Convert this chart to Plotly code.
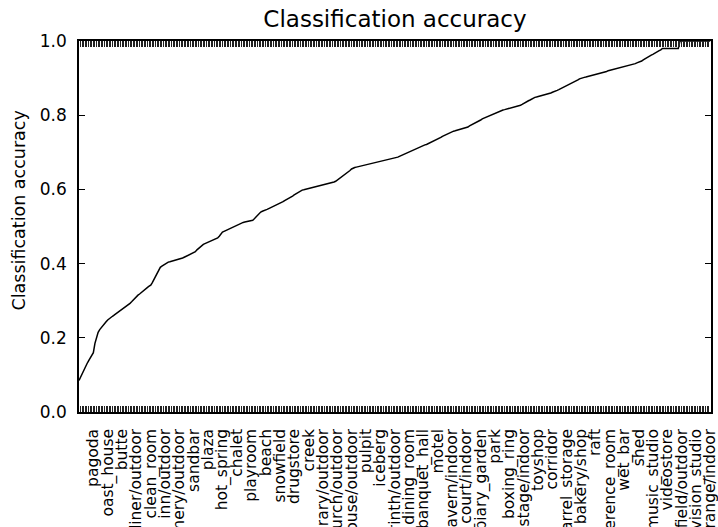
import numpy as np
import plotly.graph_objects as go

# Per-category classification accuracy, sorted ascending
accuracy = [
    0.085, 0.095, 0.105, 0.113, 0.121, 0.130, 0.138, 0.146, 0.153, 0.160,
    0.185, 0.200, 0.215, 0.222, 0.228, 0.233, 0.238, 0.243, 0.248, 0.252,
    0.255, 0.258, 0.261, 0.264, 0.267, 0.270, 0.273, 0.276, 0.279, 0.282,
    0.285, 0.288, 0.293, 0.297, 0.302, 0.306, 0.311, 0.315, 0.318, 0.322,
    0.325, 0.329, 0.332, 0.336, 0.339, 0.342, 0.349, 0.357, 0.364, 0.373,
    0.382, 0.390, 0.393, 0.396, 0.399, 0.402, 0.404, 0.405, 0.406, 0.407,
    0.409, 0.410, 0.411, 0.412, 0.413, 0.415, 0.417, 0.419, 0.421, 0.422,
    0.424, 0.426, 0.428, 0.432, 0.437, 0.441, 0.446, 0.450, 0.452, 0.454,
    0.456, 0.458, 0.460, 0.462, 0.464, 0.466, 0.467, 0.469, 0.474, 0.480,
    0.485, 0.487, 0.489, 0.491, 0.494, 0.496, 0.498, 0.500, 0.502, 0.505,
    0.507, 0.509, 0.510, 0.511, 0.512, 0.513, 0.514, 0.515, 0.516, 0.517,
    0.521, 0.526, 0.530, 0.535, 0.539, 0.541, 0.542, 0.544, 0.546, 0.548,
    0.550, 0.551, 0.553, 0.555, 0.558, 0.560, 0.563, 0.565, 0.567, 0.570,
    0.572, 0.575, 0.577, 0.580, 0.582, 0.585, 0.588, 0.590, 0.593, 0.595,
    0.598, 0.599, 0.600, 0.601, 0.603, 0.604, 0.605, 0.606, 0.607, 0.608,
    0.609, 0.610, 0.611, 0.611, 0.612, 0.613, 0.614, 0.615, 0.616, 0.617,
    0.620, 0.622, 0.625, 0.628, 0.631, 0.634, 0.638, 0.641, 0.645, 0.648,
    0.651, 0.655, 0.658, 0.659, 0.660, 0.661, 0.662, 0.663, 0.664, 0.665,
    0.665, 0.666, 0.667, 0.668, 0.669, 0.670, 0.671, 0.672, 0.673, 0.674,
    0.675, 0.676, 0.677, 0.679, 0.680, 0.681, 0.682, 0.683, 0.685, 0.686,
    0.687, 0.689, 0.691, 0.693, 0.695, 0.697, 0.699, 0.700, 0.703, 0.705,
    0.707, 0.710, 0.712, 0.714, 0.715, 0.717, 0.718, 0.720, 0.721, 0.723,
    0.725, 0.726, 0.728, 0.731, 0.733, 0.735, 0.738, 0.740, 0.743, 0.745,
    0.747, 0.750, 0.752, 0.755, 0.756, 0.757, 0.758, 0.759, 0.761, 0.762,
    0.763, 0.764, 0.765, 0.767, 0.768, 0.771, 0.773, 0.775, 0.778, 0.780,
    0.782, 0.785, 0.787, 0.790, 0.792, 0.794, 0.796, 0.797, 0.799, 0.801,
    0.803, 0.805, 0.807, 0.809, 0.811, 0.812, 0.814, 0.815, 0.816, 0.817,
    0.818, 0.820, 0.821, 0.822, 0.823, 0.824, 0.826, 0.827, 0.829, 0.832,
    0.834, 0.836, 0.839, 0.841, 0.844, 0.846, 0.848, 0.849, 0.850, 0.851,
    0.853, 0.854, 0.855, 0.856, 0.858, 0.859, 0.860, 0.862, 0.863, 0.865,
    0.867, 0.869, 0.871, 0.873, 0.875, 0.877, 0.879, 0.881, 0.884, 0.886,
    0.888, 0.891, 0.893, 0.895, 0.898, 0.900, 0.901, 0.902, 0.903, 0.904,
    0.905, 0.906, 0.907, 0.908, 0.909, 0.911, 0.912, 0.913, 0.915, 0.916,
    0.917, 0.918, 0.920, 0.921, 0.922, 0.923, 0.925, 0.926, 0.927, 0.928,
    0.930, 0.931, 0.932, 0.933, 0.934, 0.935, 0.936, 0.937, 0.938, 0.939,
    0.941, 0.942, 0.943, 0.946, 0.949, 0.952, 0.955, 0.957, 0.960, 0.962,
    0.964, 0.967, 0.969, 0.971, 0.974, 0.976, 0.980, 0.980, 0.980, 0.980,
    0.980, 0.980, 0.980, 0.980, 0.980, 0.980, 0.980, 1.000, 1.000, 1.000,
    1.000, 1.000, 1.000, 1.000, 1.000, 1.000, 1.000, 1.000, 1.000, 1.000,
    1.000, 1.000, 1.000, 1.000, 1.000, 1.000, 1.000,
]

# Category names shown on the x axis (every 9th category)
shown_labels = ["pagoda", "oast_house", "butte", "diner/outdoor", "clean_room",
                "inn/outdoor", "oil_refinery/outdoor", "sandbar", "plaza", "hot_spring",
                "chalet", "playroom", "beach", "snowfield", "drugstore", "creek",
                "library/outdoor", "church/outdoor", "greenhouse/outdoor", "pulpit",
                "iceberg", "labyrinth/outdoor", "dining_room", "banquet_hall", "motel",
                "cavern/indoor", "tennis_court/indoor", "topiary_garden", "park",
                "boxing_ring", "stage/indoor", "toyshop", "corridor",
                "wine_cellar/barrel_storage", "bakery/shop", "raft", "conference_room",
                "wet_bar", "shed", "music_studio", "videostore", "athletic_field/outdoor",
                "television_studio", "shooting_range/indoor"]
label_step = 9

y_ticks = [0.0, 0.2, 0.4, 0.6, 0.8, 1.0]

n_cat = len(accuracy)
cat_index = list(range(n_cat))

ticktext = [""] * n_cat
for k, name in enumerate(shown_labels):
    pos = label_step * (k + 1)
    if pos < n_cat:
        ticktext[pos] = name

FONT = "DejaVu Sans"
W, H = 718, 527
ML, MR, MT, MB = 79, 7, 41, 115

fig = go.Figure()
fig.add_trace(go.Scatter(x=cat_index, y=accuracy, mode="lines",
                         line=dict(color="black", width=1.5), showlegend=False,
                         hoverinfo="skip"))

fig.update_layout(
    width=W, height=H,
    margin=dict(l=ML, r=MR, t=MT, b=MB, autoexpand=False),
    paper_bgcolor="white", plot_bgcolor="white",
    font=dict(family=FONT, color="black", size=14),
    title=dict(text="Classification accuracy", x=0.5, xref="paper", xanchor="center",
               y=1 - 19 / H, yref="container", yanchor="middle",
               font=dict(family=FONT, size=23, color="black")),
    showlegend=False,
)

fig.update_xaxes(
    range=[0, n_cat - 0.5], tickmode="array", tickvals=cat_index, ticktext=ticktext,
    tickangle=-90, ticks="inside", ticklen=6, tickwidth=0.7, tickcolor="#222",
    showline=True, linecolor="black", linewidth=1.5, mirror="ticks",
    showgrid=False, zeroline=False, ticklabelstandoff=9, automargin=False,
    ticklabeloverflow="allow",
    tickfont=dict(family=FONT, size=15.5, color="black"),
)
fig.update_yaxes(
    range=[0, 1], tickmode="array", tickvals=y_ticks,
    ticktext=[f"{v:.1f}" for v in y_ticks],
    ticks="inside", ticklen=6, tickwidth=1, tickcolor="black",
    showline=True, linecolor="black", linewidth=1.5, mirror="ticks",
    showgrid=False, zeroline=False, ticklabelstandoff=7, automargin=False,
    tickfont=dict(family=FONT, size=17, color="black"),
)

fig.add_annotation(text="Classification accuracy", textangle=-90,
                   x=(18 - ML) / (W - ML - MR), xref="paper", xanchor="center",
                   y=0.5 + 16 / (H - MT - MB), yref="paper", yanchor="middle",
                   showarrow=False, font=dict(family=FONT, size=17.5, color="black"))

fig.write_html("out.html")
